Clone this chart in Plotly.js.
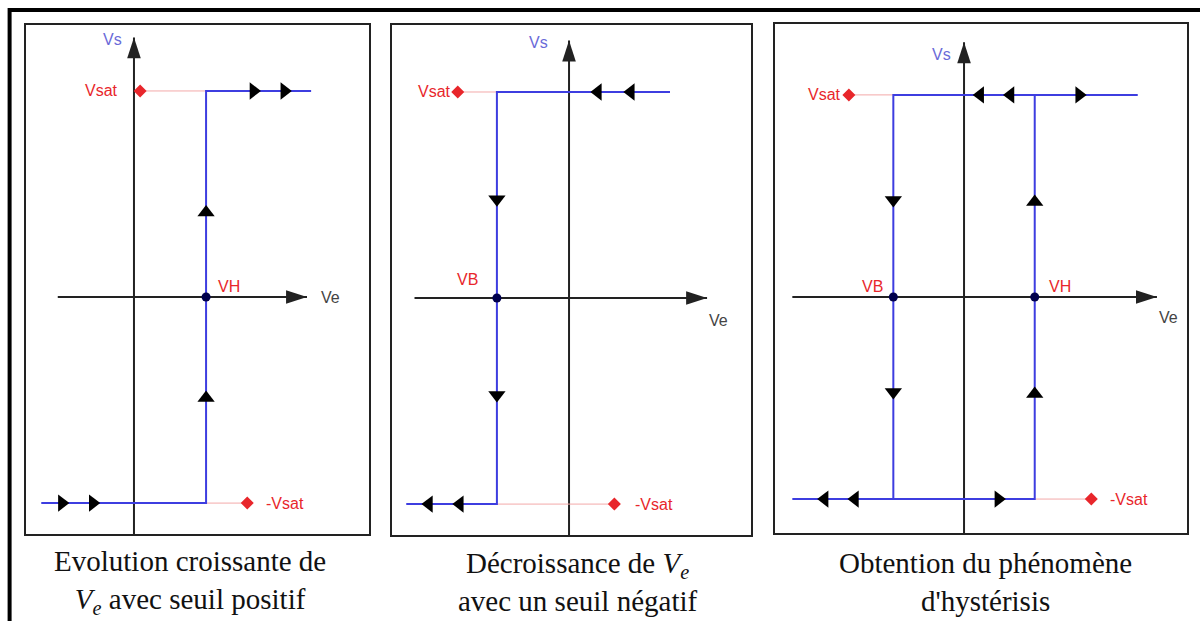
<!DOCTYPE html>
<html>
<head>
<meta charset="utf-8">
<script src="https://cdn.plot.ly/plotly-3.0.1.min.js"></script>
<style>
  html, body { margin: 0; padding: 0; background: #fff; }
  #chart { width: 1200px; height: 621px; }
</style>
</head>
<body>
<div id="chart"></div>
<script>
// Vsat = 1, -Vsat = -1 ; seuils VH / VB en unités de Ve

// Panneau 1 : évolution croissante, seuil positif VH
const p1CurveX = [-0.45, 0.35, 0.35, 0.86];
const p1CurveY = [-1, -1, 1, 1];
const p1RefX = [0.03, 0.35, null, 0.35, 0.55];
const p1RefY = [1, 1, null, -1, -1];
const p1SatX = [0.03, 0.55];
const p1SatY = [1, -1];
const p1SeuilX = [0.35];
const p1RightX = [-0.35, -0.2, 0.58, 0.73];
const p1RightY = [-1, -1, 1, 1];
const p1UpX = [0.35, 0.35];
const p1UpY = [0.41, -0.49];
const p1AxeVe = [-0.37, 0.84];
const p1AxeVs = [-1.15, 1.26];

// Panneau 2 : décroissance, seuil négatif VB
const p2CurveX = [0.49, -0.35, -0.35, -0.79];
const p2CurveY = [1, 1, -1, -1];
const p2RefX = [-0.54, -0.35, null, -0.35, 0.22];
const p2RefY = [1, 1, null, -1, -1];
const p2SatX = [-0.54, 0.22];
const p2SatY = [1, -1];
const p2SeuilX = [-0.35];
const p2LeftX = [0.14, 0.3, -0.68, -0.53];
const p2LeftY = [1, 1, -1, -1];
const p2DownX = [-0.35, -0.35];
const p2DownY = [0.48, -0.47];
const p2AxeVe = [-0.75, 0.67];
const p2AxeVs = [-1.15, 1.25];

// Panneau 3 : cycle d'hystérésis
const p3CurveX = [-0.85, 0.35, 0.35, -0.35, -0.35, null, 0.35, 0.86];
const p3CurveY = [-1, -1, 1, 1, -1, null, 1, 1];
const p3RefX = [-0.57, -0.35, null, 0.35, 0.63];
const p3RefY = [1, 1, null, -1, -1];
const p3SatX = [-0.57, 0.63];
const p3SatY = [1, -1];
const p3SeuilX = [-0.35, 0.35];
const p3LeftX = [0.08, 0.23, -0.69, -0.54];
const p3LeftY = [1, 1, -1, -1];
const p3RightX = [0.57, 0.17];
const p3RightY = [1, -1];
const p3DownX = [-0.35, -0.35];
const p3DownY = [0.48, -0.47];
const p3UpX = [0.35, 0.35];
const p3UpY = [0.47, -0.48];
const p3AxeVe = [-0.85, 0.955];
const p3AxeVs = [-1.17, 1.26];

const blue = "#3d3de0";
const red = "#e8262b";
const ink = "#222";

function line(xs, ys, n, color, width) {
  return { x: xs, y: ys, xaxis: "x" + n, yaxis: "y" + n, type: "scatter", mode: "lines",
    line: { color: color, width: width }, hoverinfo: "skip", connectgaps: false };
}
function marks(xs, ys, n, symbol, size, color, angle) {
  return { x: xs, y: ys, xaxis: "x" + n, yaxis: "y" + n, type: "scatter", mode: "markers",
    marker: { symbol: symbol, size: size, color: color, angle: angle || 0 }, hoverinfo: "skip" };
}
function axes(ve, vs, n) {
  return [
    line(ve, [0, 0], n, ink, 2),
    line([0, 0], vs, n, ink, 2),
    marks([ve[1]], [0], n, "arrow", 22, ink, 90),
    marks([0], [vs[1]], n, "arrow", 22, ink, 0)
  ];
}

const data = [].concat(
  axes(p1AxeVe, p1AxeVs, ""),
  [line(p1RefX, p1RefY, "", "#f3a9a9", 1),
   line(p1CurveX, p1CurveY, "", blue, 2),
   marks(p1RightX, p1RightY, "", "triangle-right", 15, "#000"),
   marks(p1UpX, p1UpY, "", "triangle-up", 15, "#000"),
   marks(p1SeuilX, [0], "", "circle", 9, "#00004d"),
   marks(p1SatX, p1SatY, "", "diamond", 10, red)],
  axes(p2AxeVe, p2AxeVs, "2"),
  [line(p2RefX, p2RefY, "2", "#f3a9a9", 1),
   line(p2CurveX, p2CurveY, "2", blue, 2),
   marks(p2LeftX, p2LeftY, "2", "triangle-left", 15, "#000"),
   marks(p2DownX, p2DownY, "2", "triangle-down", 15, "#000"),
   marks(p2SeuilX, [0], "2", "circle", 9, "#00004d"),
   marks(p2SatX, p2SatY, "2", "diamond", 10, red)],
  axes(p3AxeVe, p3AxeVs, "3"),
  [line(p3RefX, p3RefY, "3", "#f3a9a9", 1),
   line(p3CurveX, p3CurveY, "3", blue, 2),
   marks(p3LeftX, p3LeftY, "3", "triangle-left", 15, "#000"),
   marks(p3RightX, p3RightY, "3", "triangle-right", 15, "#000"),
   marks(p3DownX, p3DownY, "3", "triangle-down", 15, "#000"),
   marks(p3UpX, p3UpY, "3", "triangle-up", 15, "#000"),
   marks(p3SeuilX, [0, 0], "3", "circle", 9, "#00004d"),
   marks(p3SatX, p3SatY, "3", "diamond", 10, red)]
);

function ax(domain, range, anchor) {
  return { domain: domain, range: range, anchor: anchor, showgrid: false, zeroline: false,
    showticklabels: false, ticks: "", showline: true, mirror: true, linecolor: ink, linewidth: 2,
    fixedrange: true };
}

function label(text, x, y, n, color, anchor) {
  return { text: text, x: x, y: y, xref: "x" + n, yref: "y" + n, showarrow: false,
    xanchor: anchor, yanchor: "middle", font: { family: "Liberation Sans, Arial", size: 16, color: color } };
}
function caption(text, x) {
  return { text: text, x: x, y: 0.062, xref: "paper", yref: "paper", showarrow: false,
    xanchor: "center", yanchor: "middle", align: "center",
    font: { family: "Liberation Serif, Times New Roman, serif", size: 29, color: "#111" } };
}

const layout = {
  width: 1200,
  height: 621,
  margin: { l: 0, r: 0, t: 0, b: 0 },
  paper_bgcolor: "#fff",
  plot_bgcolor: "#fff",
  showlegend: false,
  xaxis: ax([0.0217, 0.3075], [-0.524, 1.141], "y"),
  yaxis: ax([0.1401, 0.9597], [-1.15, 1.32], "x"),
  xaxis2: ax([0.3267, 0.6258], [-0.859, 0.883], "y2"),
  yaxis2: ax([0.1385, 0.9597], [-1.15, 1.325], "x2"),
  xaxis3: ax([0.6458, 0.9892], [-0.936, 1.104], "y3"),
  yaxis3: ax([0.1417, 0.9614], [-1.168, 1.351], "x3"),
  shapes: [
    { type: "line", xref: "paper", yref: "paper", x0: 0.0067, x1: 1, y0: 0.984, y1: 0.984, line: { color: "#000", width: 4 } },
    { type: "line", xref: "paper", yref: "paper", x0: 0.008, x1: 0.008, y0: 0.987, y1: 0, line: { color: "#000", width: 4 } }
  ],
  annotations: [
    label("Vs", -0.05, 1.25, "", "#6a6ad8", "right"),
    label("Vsat", -0.07, 1, "", red, "right"),
    label("VH", 0.4, 0.05, "", red, "left"),
    label("Ve", 0.9, 0, "", "#444", "left"),
    label("-Vsat", 0.63, -1, "", red, "left"),
    label("Vs", -0.09, 1.24, "2", "#6a6ad8", "right"),
    label("Vsat", -0.565, 1, "2", red, "right"),
    label("VB", -0.43, 0.09, "2", red, "right"),
    label("Ve", 0.67, -0.11, "2", "#444", "left"),
    label("-Vsat", 0.31, -1, "2", red, "left"),
    label("Vs", -0.054, 1.2, "3", "#6a6ad8", "right"),
    label("Vsat", -0.6, 1, "3", red, "right"),
    label("VB", -0.39, 0.05, "3", red, "right"),
    label("VH", 0.41, 0.05, "3", red, "left"),
    label("Ve", 0.955, -0.104, "3", "#444", "left"),
    label("-Vsat", 0.713, -1, "3", red, "left"),
    caption("Evolution croissante de<br><i>V<sub>e</sub></i> avec seuil positif", 0.158),
    caption("Décroissance de <i>V<sub>e</sub></i><br>avec un seuil négatif", 0.481),
    caption("Obtention du phénomène<br>d'hystérisis", 0.821)
  ]
};

Plotly.newPlot("chart", data, layout, { displayModeBar: false, staticPlot: true });
</script>
</body>
</html>
